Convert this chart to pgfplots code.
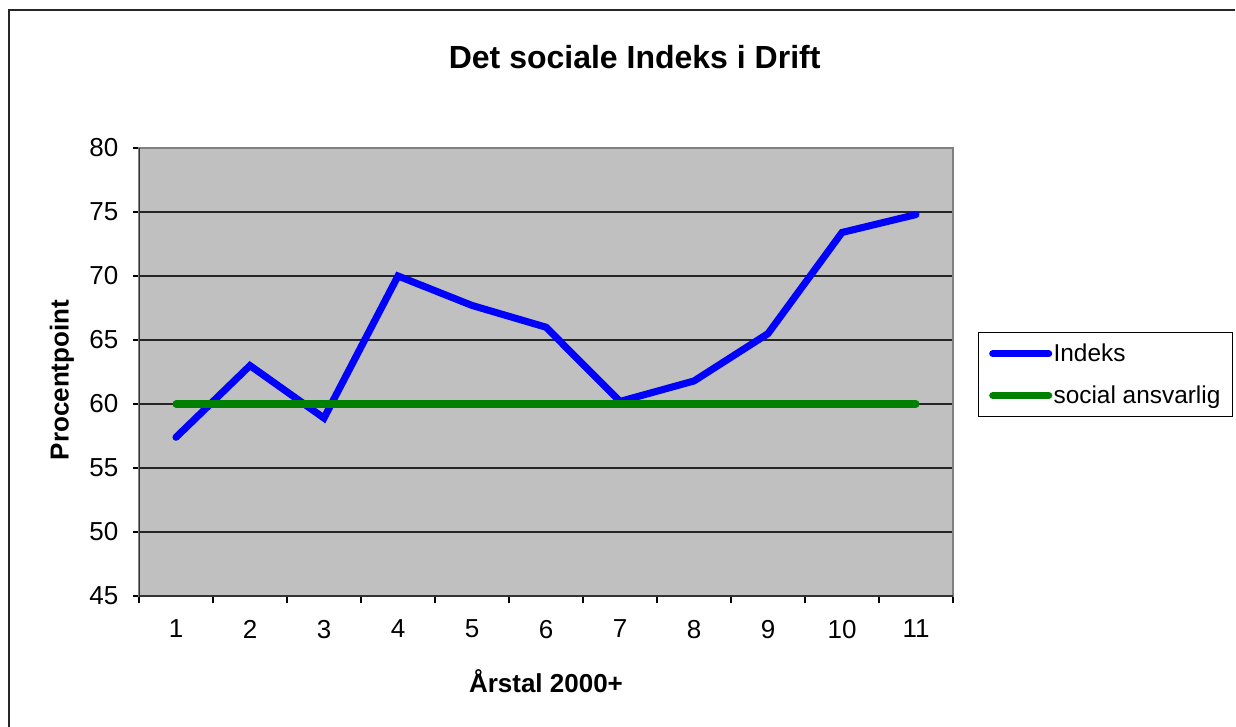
\documentclass[border=0pt]{standalone}
\usepackage{pgfplots}
\pgfplotsset{compat=1.18}
\usepackage{fontspec}
\setmainfont{Liberation Sans}
\definecolor{plotbg}{HTML}{C0C0C0}
\definecolor{xlblue}{HTML}{0000FF}
\definecolor{xlgreen}{HTML}{008000}
\begin{document}
\begin{tikzpicture}
\path[use as bounding box] (0,0) rectangle (927pt,-545.25pt);
\draw[line width=1.2pt, black!85] (6.75pt,-546pt) -- (6.75pt,-7.5pt) -- (926pt,-7.5pt);
\node[font=\fontsize{24}{28}\selectfont\bfseries] at (476pt,-42.75pt) {Det sociale Indeks i Drift};
\begin{axis}[
  at={(104.25pt,-447pt)}, anchor=south west,
  scale only axis, width=610.5pt, height=336pt,
  xmin=0.5, xmax=11.5, ymin=45, ymax=80,
  xtick={1,2,3,4,5,6,7,8,9,10,11},
  minor xtick={0.5,1.5,2.5,3.5,4.5,5.5,6.5,7.5,8.5,9.5,10.5,11.5},
  ytick={45,50,55,60,65,70,75,80},
  tick align=outside,
  major x tick style={draw=none},
  minor tick length=5.5pt,
  major tick length=4.5pt,
  x tick style={black, line width=0.9pt},
  y tick style={black, line width=0.9pt},
  xtick pos=bottom, ytick pos=left,
  axis background/.style={fill=plotbg},
  axis line style={draw=black!50, line width=1.1pt},
  ymajorgrids, grid style={black!85, line width=0.9pt},
  /pgf/number format/assume math mode=true,
  ticklabel style={font=\fontsize{19.5}{23}\selectfont},
  yticklabel style={xshift=-7.5pt},
  xticklabel style={yshift=-10pt},
  xlabel={Årstal 2000+},
  ylabel={Procentpoint},
  label style={font=\fontsize{19.5}{23}\selectfont\bfseries},
  xlabel style={at={(axis description cs:0.5,-0.19)}, anchor=center},
  ylabel style={at={(axis description cs:-0.0946,0.482)}, anchor=center, rotate=0},
  legend cell align=left,
  legend image code/.code={\draw[#1, line cap=round] (0pt,0pt) -- (42pt,0pt);},
  legend style={at={(1.0307,0.589)}, anchor=north west, draw=black, line width=0.8pt, fill=white,
    font=\fontsize{18.3}{22}\selectfont, inner xsep=8pt, inner ysep=6.5pt,
    row sep=12.5pt, nodes={inner xsep=1pt}},
]
\addplot[xlblue, line width=5.3pt, line join=miter, line cap=round] coordinates {
(1,57.4) (2,63.0) (3,58.9) (4,70.0) (5,67.7) (6,66.0) (7,60.2) (8,61.8) (9,65.5) (10,73.4) (11,74.8)};
\addlegendentry{Indeks}
\addplot[xlgreen, line width=5.3pt, line cap=round] coordinates {
(1,60) (2,60) (3,60) (4,60) (5,60) (6,60) (7,60) (8,60) (9,60) (10,60) (11,60)};
\addlegendentry{social ansvarlig}
\draw[black!80, line width=1.1pt] (rel axis cs:0,1) -- (rel axis cs:0,0) -- (rel axis cs:1,0);
\end{axis}
\end{tikzpicture}
\end{document}
